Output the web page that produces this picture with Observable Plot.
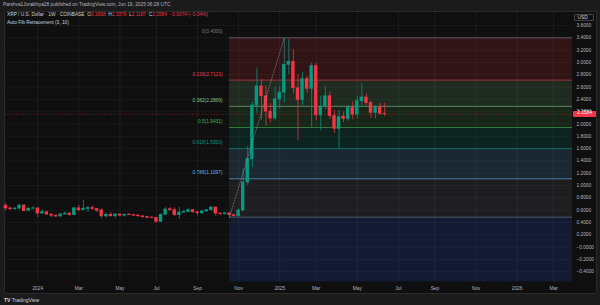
<!DOCTYPE html>
<html><head><meta charset="utf-8">
<script src="https://cdn.jsdelivr.net/npm/d3@7"></script>
<script src="https://cdn.jsdelivr.net/npm/@observablehq/plot@0.6"></script>
<style>
html,body{margin:0;padding:0;background:#1b1b1b;overflow:hidden;}
#wrap{position:relative;width:600px;height:305px;overflow:hidden;background:#1b1b1b;font-family:"Liberation Sans",Arial,sans-serif;}
#pane{position:absolute;left:4px;top:11px;width:593px;height:283px;background:#0f0f0f;border:1px solid #2b2b2b;box-sizing:border-box;border-radius:2px}
#chart{position:absolute;left:0;top:0}
.t{position:absolute;white-space:nowrap;font-size:4.8px;line-height:1;}
</style></head><body>
<div id="wrap">
 <div id="pane"></div>
 <div id="chart"></div>
 <div class="t" style="left:3px;top:2.7px;color:#b2b5be">Parshva1Jurakhiya28 published on TradingView.com, Jun 19, 2025 06:28 UTC</div>
 <div class="t" style="left:7px;top:13.3px;color:#d1d4dc">XRP / U.S. Dollar · 1W · COINBASE &nbsp;O<span style="color:#f23645">2.1658</span> &nbsp;H<span style="color:#f23645">2.3379</span> &nbsp;L<span style="color:#f23645">2.1187</span> &nbsp;C<span style="color:#f23645">2.1584</span> &nbsp;<span style="color:#f23645">−0.0074 (−0.34%)</span></div>
 <div class="t" style="left:7px;top:20.9px;color:#d1d4dc">Auto Fib Retracement (3, 10)</div>
 <div class="t" style="left:574px;top:13.5px;width:20px;height:7px;border:0.6px solid #434651;border-radius:1px;box-sizing:border-box;color:#d1d4dc;padding-left:2.5px;padding-top:1px">USD</div>
 <div class="t" id="plabel" style="left:573px;width:23px;height:6px;background:#f23645;color:#ffffff;text-align:center;padding-top:0.6px;box-sizing:border-box;border-radius:1px">2.1584</div>
 <div class="t" style="left:4px;top:297.5px;color:#d1d4dc;font-size:5px;"><b>TV</b> TradingView</div>
</div>
<script>
// weekly bars (Monday open), XRP / USD, Coinbase
const firstWeek = "2023-11-13", lastWeek = "2025-06-16";
const opens = [0.672,0.628,0.617,0.625,0.675,0.59,0.625,0.628,0.545,0.565,0.528,0.51,0.497,0.53,0.545,0.52,0.63,0.60,0.62,0.635,0.62,0.595,0.50,0.525,0.50,0.53,0.51,0.528,0.52,0.51,0.50,0.49,0.48,0.474,0.41,0.525,0.615,0.60,0.52,0.56,0.57,0.60,0.565,0.55,0.58,0.60,0.643,0.545,0.537,0.55,0.52,0.505,0.595,1.05,1.43,2.30,2.61,2.45,2.20,2.09,2.40,2.51,2.96,3.01,2.58,2.39,2.73,2.57,2.94,2.14,2.28,2.45,2.13,1.92,2.12,2.08,2.26,2.15,2.37,2.43,2.34,2.18,2.27,2.1658];
const highs = [0.712,0.645,0.64,0.69,0.685,0.635,0.66,0.645,0.60,0.585,0.54,0.52,0.55,0.57,0.56,0.645,0.68,0.76,0.66,0.67,0.63,0.63,0.55,0.56,0.54,0.54,0.535,0.545,0.535,0.53,0.505,0.50,0.49,0.48,0.54,0.64,0.64,0.64,0.645,0.60,0.62,0.61,0.58,0.59,0.61,0.66,0.645,0.55,0.56,0.56,0.53,0.62,1.27,1.63,2.35,2.91,2.72,2.62,2.33,2.60,2.60,3.40,3.37,3.21,2.80,2.84,2.78,2.99,2.98,2.45,2.60,2.52,2.22,2.22,2.20,2.30,2.36,2.45,2.66,2.49,2.37,2.30,2.34,2.3379];
const lows = [0.592,0.592,0.597,0.61,0.575,0.575,0.60,0.48,0.53,0.52,0.48,0.49,0.49,0.52,0.50,0.51,0.57,0.59,0.56,0.60,0.56,0.46,0.47,0.49,0.47,0.49,0.49,0.51,0.50,0.49,0.47,0.46,0.46,0.39,0.40,0.51,0.58,0.50,0.45,0.55,0.56,0.55,0.51,0.53,0.56,0.58,0.50,0.51,0.52,0.4862,0.49,0.49,0.57,1.00,1.29,2.17,2.06,1.96,2.02,2.05,2.24,2.35,2.80,2.49,1.73,2.30,2.50,1.95,2.05,1.89,2.23,2.07,1.85,1.61,2.02,2.04,2.07,2.08,2.30,2.30,2.09,2.08,2.14,2.1187];
const closes = [0.628,0.617,0.625,0.675,0.585,0.625,0.628,0.545,0.57,0.528,0.51,0.495,0.53,0.545,0.52,0.63,0.60,0.625,0.635,0.62,0.59,0.50,0.525,0.50,0.53,0.51,0.525,0.52,0.51,0.50,0.487,0.478,0.474,0.41,0.525,0.61,0.60,0.52,0.56,0.57,0.60,0.565,0.55,0.58,0.60,0.643,0.545,0.537,0.55,0.52,0.505,0.595,1.05,1.43,2.30,2.61,2.45,2.20,2.09,2.40,2.51,2.96,3.01,2.58,2.39,2.73,2.57,2.94,2.14,2.28,2.45,2.13,1.92,2.11,2.08,2.26,2.15,2.37,2.43,2.34,2.18,2.27,2.1658,2.1584];

// Auto Fib retracement
const fibRatios = [0, 0.236, 0.382, 0.5, 0.618, 0.786, 1, 1.618];
const fibPrices = [3.4000, 2.7123, 2.2869, 1.9431, 1.5993, 1.1097, 0.4862, -1.3148];
const fibColors = ["#787b86", "#f23645", "#81c784", "#4caf50", "#089981", "#64b5f6", "#787b86", "#2962ff"];
const fibLabelShown = [true, true, true, true, true, true, false, false];
const fibStart = "2024-10-21", fibHighWeek = "2025-01-13";
const lastPrice = 2.1584;

// axes
const xTickDates = ["2024-01-01","2024-03-04","2024-05-06","2024-07-01","2024-09-02","2024-11-04","2025-01-06","2025-03-03","2025-05-05","2025-07-07","2025-09-01","2025-11-03","2026-01-05","2026-03-02"];
const xTickLabels = ["2024","Mar","May","Jul","Sep","Nov","2025","Mar","May","Jul","Sep","Nov","2026","Mar"];
const yTickValues = [3.6,3.4,3.2,3.0,2.8,2.6,2.4,2.2,2.0,1.8,1.6,1.4,1.2,1.0,0.8,0.6,0.4,0.2,0,-0.2,-0.4];
const yTickLabels = ["3.6000","3.4000","3.2000","3.0000","2.8000","2.6000","2.4000","2.2000","2.0000","1.8000","1.6000","1.4000","1.2000","1.0000","0.8000","0.6000","0.4000","0.2000","−0.0000","−0.2000","−0.4000"];

const UP = "#089981", DOWN = "#f23645";
const weeks = d3.utcMonday.range(new Date(firstWeek), d3.utcDay.offset(new Date(lastWeek), 1));
const candles = weeks.map((d, i) => ({date: d, open: opens[i], high: highs[i], low: lows[i], close: closes[i], color: closes[i] >= opens[i] ? UP : DOWN}));
const xStart = new Date("2023-11-12T12:00:00Z"), xEnd = new Date("2026-03-31T00:00:00Z");
const fS = new Date(fibStart);
const levels = fibRatios.map((r, i) => ({r, price: fibPrices[i], color: fibColors[i], label: `${r}(${fibPrices[i].toFixed(4)})`, shown: fibLabelShown[i]}));
const bands = levels.slice(0, -1).map((l, i) => ({y1: l.price, y2: levels[i + 1].price, color: levels[i + 1].color}));
const xt = xTickDates.map(s => new Date(s));

const chart = Plot.plot({
  width: 600, height: 305,
  marginLeft: 5, marginRight: 28, marginTop: 11, marginBottom: 23.5,
  style: {background: "transparent", color: "#b2b5be", fontFamily: "Liberation Sans, Arial, sans-serif", fontSize: "4.8px", overflow: "visible"},
  x: {type: "utc", domain: [xStart, xEnd], label: null},
  y: {domain: [-0.567, 3.827], label: null},
  marks: [
    Plot.gridX(xt, {stroke: "#ffffff", strokeOpacity: 0.055}),
    Plot.gridY(yTickValues, {stroke: "#ffffff", strokeOpacity: 0.045}),
    Plot.rect(bands, {x1: () => fS, x2: () => xEnd, y1: "y1", y2: "y2", fill: "color", fillOpacity: 0.15, clip: true}),
    Plot.ruleY(levels, {y: "price", x1: () => fS, x2: () => xEnd, stroke: "color", strokeWidth: 0.8, strokeOpacity: 0.8, clip: true}),
    Plot.ruleY([lastPrice], {stroke: DOWN, strokeWidth: 0.6, strokeDasharray: "1,1.2", strokeOpacity: 0.7}),
    Plot.ruleX(candles, {x: "date", y1: "low", y2: "high", stroke: "color", strokeWidth: 0.75}),
    Plot.rect(candles, {x1: d => d3.utcHour.offset(d.date, -62), x2: d => d3.utcHour.offset(d.date, 62), y1: "open", y2: "close", fill: "color", insetTop: -0.35, insetBottom: -0.35}),
    Plot.line([{d: fS, v: fibPrices[6]}, {d: new Date(fibHighWeek), v: fibPrices[0]}], {x: "d", y: "v", stroke: "#9598a1", strokeOpacity: 0.7, strokeWidth: 0.8, strokeDasharray: "1.2,1.6"}),
    Plot.text(levels.filter(l => l.shown), {x: () => fS, y: "price", text: "label", fill: "color", textAnchor: "end", dx: -7, dy: -6}),
    Plot.axisX(xt, {anchor: "bottom", tickSize: 0, tickPadding: 5, label: null, tickFormat: d => xTickLabels[xt.findIndex(t => +t === +d)]}),
    Plot.axisY(yTickValues, {anchor: "right", tickSize: 0, tickPadding: 4, label: null, tickFormat: d => yTickLabels[yTickValues.indexOf(d)]})
  ]
});
document.getElementById("chart").appendChild(chart);
const py = chart.scale("y").apply(lastPrice);
document.getElementById("plabel").style.top = (py - 3) + "px";
</script>
</body></html>
